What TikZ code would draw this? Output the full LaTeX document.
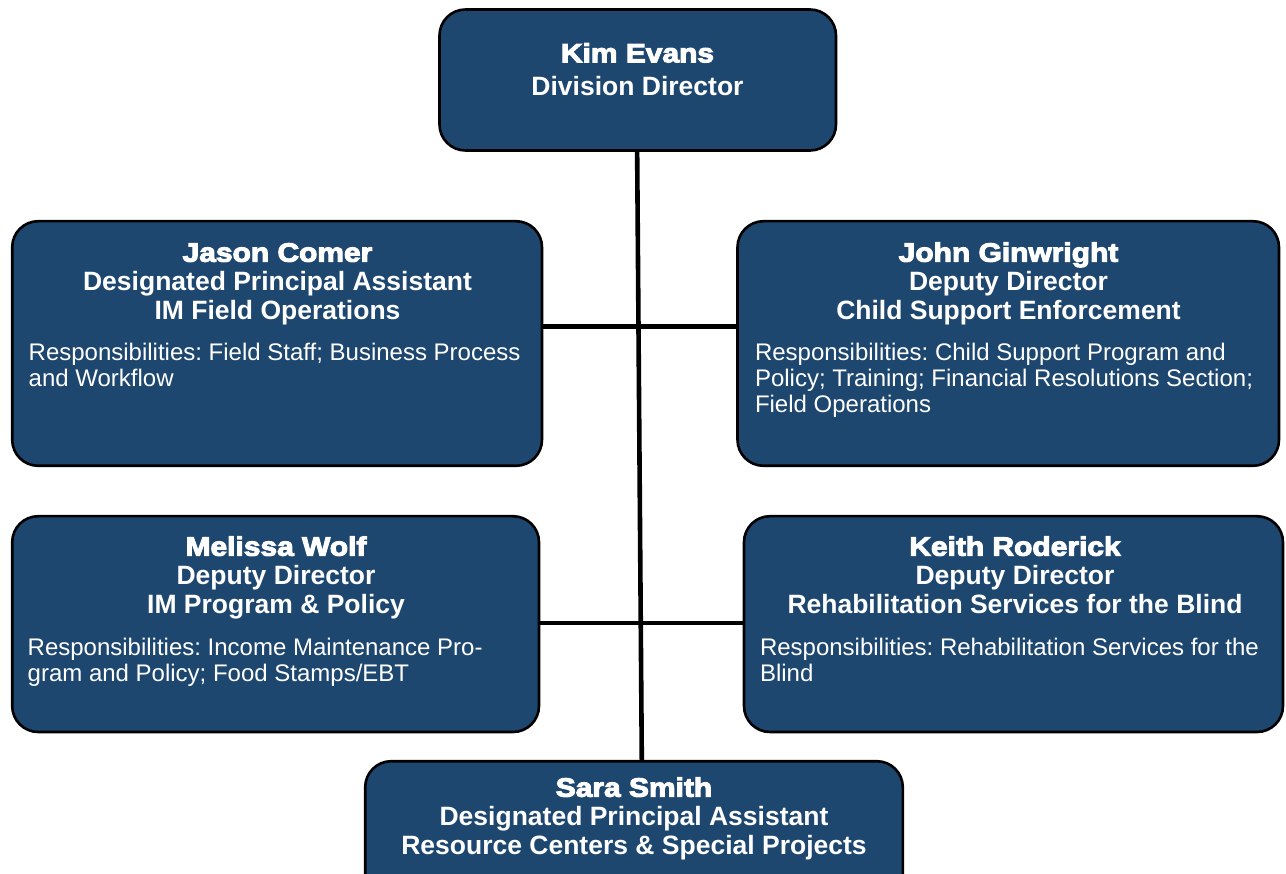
\documentclass[tikz,border=0pt]{standalone}
\usepackage{fontspec}
\setmainfont{Liberation Sans}
\newfontfamily\blackfont{Liberation Sans Bold}[FakeBold=4,FakeStretch=1.13]
\usetikzlibrary{calc}
\definecolor{boxblue}{HTML}{1E4770}
\frenchspacing
\tikzset{
  box/.style={draw=black, line width=2.6pt, fill=boxblue, rounded corners=26pt, inner sep=0pt, rectangle},
  nm/.style={text=white, anchor=base, inner sep=0pt, font=\blackfont\fontsize{26.5}{30}\selectfont},
  ttl/.style={text=white, anchor=base, inner sep=0pt, font=\bfseries\fontsize{26.5}{30}\selectfont},
  rsp/.style={text=white, anchor=base west, inner sep=0pt, font=\frenchspacing\fontsize{24}{26}\selectfont},
  conn/.style={line width=4.6pt, black},
}
\begin{document}
\begin{tikzpicture}[x=1pt,y=-1pt]
\fill[white] (0,0) rectangle (1286,874);
\useasboundingbox (0,0) rectangle (1286,874);
% boxes
\node[box, minimum width=396.5pt, minimum height=141pt] (kim) at (637.75,80) {};
\node[box, minimum width=529.8pt, minimum height=244.6pt] (jason) at (277.1,343.5) {};
\node[box, minimum width=541.5pt, minimum height=244.6pt] (john) at (1008.25,343.5) {};
\node[box, minimum width=526.8pt, minimum height=215.8pt] (melissa) at (275.6,624.1) {};
\node[box, minimum width=539pt, minimum height=215.8pt] (keith) at (1013.5,624.1) {};
\node[box, minimum width=537.6pt, minimum height=138.8pt] (sara) at (634,830.6) {};
% connectors
\coordinate (h1) at (0,326.7);
\coordinate (h2) at (0,623);
\draw[conn] ($(kim.south)+(-0.6,0)$) -- ($(sara.north)+(7.8,0)$);
\draw[conn] (jason.east |- h1) -- (john.west |- h1);
\draw[conn] (melissa.east |- h2) -- (keith.west |- h2);
% Kim
\node[nm] (kimN) at (637.5,62.3) {Kim Evans};
\node[ttl] (kimT) at (637.5,96) {Division Director};
% Jason
\node[nm] (jasN) at (277.5,261.7) {Jason Comer};
\node[ttl] (jasT1) at (277.5,290.2) {Designated Principal Assistant};
\node[ttl] (jasT2) at (277.5,319.5) {IM Field Operations};
\node[rsp] (jasR1) at (28.5,360.7) {Responsibilities: Field Staff; Business Process};
\node[rsp] (jasR2) at (28.5,386.7) {and Workflow};
% John
\node[nm] (johN) at (1008.5,261.7) {John Ginwright};
\node[ttl] (johT1) at (1008.5,290.2) {Deputy Director};
\node[ttl] (johT2) at (1008.5,319.5) {Child Support Enforcement};
\node[rsp] (johR1) at (754.8,360.7) {Responsibilities: Child Support Program and};
\node[rsp] (johR2) at (754.8,386.7) {Policy; Training; Financial Resolutions Section;};
\node[rsp] (johR3) at (754.8,413) {Field Operations};
% Melissa
\node[nm] (melN) at (276,555.7) {Melissa Wolf};
\node[ttl] (melT1) at (276,584.3) {Deputy Director};
\node[ttl] (melT2) at (276,613.7) {IM Program \& Policy};
\node[rsp] (melR1) at (27.5,655) {Responsibilities: Income Maintenance Pro-};
\node[rsp] (melR2) at (27.5,681) {gram and Policy; Food Stamps/EBT};
% Keith
\node[nm] (keiN) at (1015,555.7) {Keith Roderick};
\node[ttl] (keiT1) at (1015,584.3) {Deputy Director};
\node[ttl] (keiT2) at (1015,613.7) {Rehabilitation Services for the Blind};
\node[rsp] (keiR1) at (759.8,655) {Responsibilities: Rehabilitation Services for the};
\node[rsp] (keiR2) at (759.8,681) {Blind};
% Sara
\node[nm] (sarN) at (634,796.7) {Sara Smith};
\node[ttl] (sarT1) at (634,825) {Designated Principal Assistant};
\node[ttl] (sarT2) at (634,854.3) {Resource Centers \& Special Projects};
\end{tikzpicture}
\end{document}
